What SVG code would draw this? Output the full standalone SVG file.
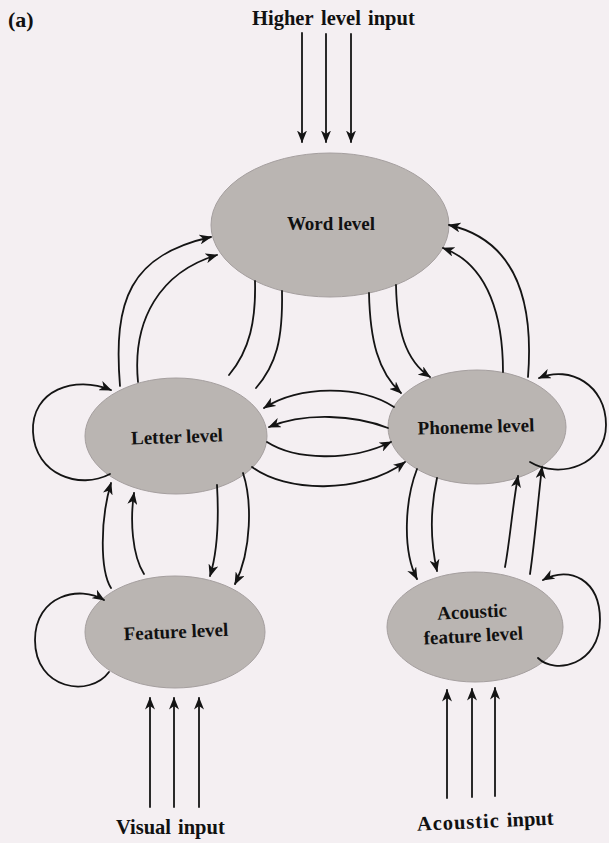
<svg xmlns="http://www.w3.org/2000/svg" width="609" height="843" viewBox="0 0 609 843">
  <style>
    .node { fill: #bab5b2; stroke: #a59f9f; stroke-width: 1; }
    .lbl { font-family: "Liberation Serif", "Times New Roman", serif; font-weight: bold; font-size: 19px; fill: #111; text-anchor: middle; }
    .title { font-family: "Liberation Serif", "Times New Roman", serif; font-weight: bold; font-size: 20.5px; fill: #111; }
    .edge { fill: none; stroke: #141414; stroke-width: 1.8; stroke-linecap: round; }
    .arr { marker-end: url(#head); }
  </style>
  <defs>
    <marker id="head" markerUnits="userSpaceOnUse" markerWidth="14" markerHeight="10" refX="11.5" refY="5" orient="auto">
      <path d="M0,0 L12.5,5 L0,10 L3.5,5 Z" fill="#141414"/>
    </marker>
  </defs>

  <rect width="609" height="843" fill="#f4eff2"/>

  <!-- nodes -->
  <g id="word">
    <ellipse class="node" cx="330" cy="225" rx="119" ry="72"/>
    <text class="lbl" x="331" y="230">Word level</text>
  </g>
  <g id="letter">
    <ellipse class="node" cx="176" cy="436" rx="91" ry="58"/>
    <text class="lbl" x="177" y="443" transform="rotate(-2 177 438)">Letter level</text>
  </g>
  <g id="phoneme">
    <ellipse class="node" cx="477" cy="427" rx="89" ry="57"/>
    <text class="lbl" x="476" y="433" transform="rotate(-1.5 476 428)">Phoneme level</text>
  </g>
  <g id="feature">
    <ellipse class="node" cx="175" cy="632" rx="90" ry="56"/>
    <text class="lbl" x="176" y="638" transform="rotate(-2.5 176 632)">Feature level</text>
  </g>
  <g id="acoustic-feature">
    <ellipse class="node" cx="475" cy="627" rx="88" ry="55"/>
    <text class="lbl" transform="rotate(-3 473 630)"><tspan x="473" y="618">Acoustic</tspan><tspan x="473" y="642">feature level</tspan></text>
  </g>

  <!-- labels outside nodes -->
  <g id="labels">
    <text class="title" x="8" y="27" style="font-size:22px">(a)</text>
    <text class="title" y="25"><tspan x="252">Higher</tspan><tspan x="321">level</tspan><tspan x="368">input</tspan></text>
    <text class="title" y="834"><tspan x="116">Visual</tspan><tspan x="178">input</tspan></text>
    <text class="title" transform="rotate(-2.5 481 825)" y="828"><tspan x="417" textLength="82">Acoustic</tspan><tspan x="507">input</tspan></text>
  </g>

  <!-- connectors -->
  <g id="connectors">
    <!-- higher level input -->
    <path class="edge arr" d="M302,33 V142"/>
    <path class="edge arr" d="M326,34 V142"/>
    <path class="edge arr" d="M351,34 V142"/>

    <!-- letter -> word -->
    <path class="edge arr" d="M120,386 C113,300 130,255 211,237"/>
    <path class="edge arr" d="M138,382 C132,320 160,272 217,255"/>
    <!-- word -> letter (no heads) -->
    <path class="edge" d="M255,281 C256,320 250,350 229,375"/>
    <path class="edge" d="M282,291 C283,340 276,365 256,388"/>

    <!-- word -> phoneme -->
    <path class="edge arr" d="M369,293 C370,340 378,372 401,393"/>
    <path class="edge arr" d="M396,285 C397,330 405,360 430,377"/>
    <!-- phoneme -> word -->
    <path class="edge arr" d="M528,377 C534,300 515,240 449,225"/>
    <path class="edge arr" d="M503,372 C503,320 490,265 443,248"/>

    <!-- letter self loop -->
    <path class="edge arr" d="M110,474 C80,490 35,475 33,432 C31,390 75,375 111,390"/>
    <!-- phoneme self loop -->
    <path class="edge arr" d="M530,462 C560,480 606,465 606,425 C606,385 570,365 539,378"/>

    <!-- phoneme <-> letter -->
    <path class="edge arr" d="M394,407 C360,385 300,385 264,408"/>
    <path class="edge arr" d="M388,428 C355,415 305,412 269,427"/>
    <path class="edge arr" d="M267,442 C295,460 350,462 391,442"/>
    <path class="edge arr" d="M252,467 C285,492 360,495 405,462"/>

    <!-- feature -> letter -->
    <path class="edge arr" d="M111,588 C100,570 100,520 111,483"/>
    <path class="edge arr" d="M144,574 C132,555 130,520 134,493"/>
    <!-- letter -> feature -->
    <path class="edge arr" d="M217,485 C219,520 218,550 210,576"/>
    <path class="edge arr" d="M243,473 C252,500 252,550 235,584"/>

    <!-- feature self loop -->
    <path class="edge arr" d="M109,672 C90,698 35,690 35,640 C35,595 80,585 104,600"/>

    <!-- visual input -->
    <path class="edge arr" d="M150,807 V698"/>
    <path class="edge arr" d="M174,807 V698"/>
    <path class="edge arr" d="M199,807 V698"/>

    <!-- phoneme -> acoustic feature -->
    <path class="edge arr" d="M417,469 C405,500 402,550 417,579"/>
    <path class="edge arr" d="M437,478 C430,510 430,540 437,571"/>
    <!-- acoustic feature -> phoneme -->
    <path class="edge arr" d="M505,567 C510,540 512,510 518,476"/>
    <path class="edge arr" d="M530,574 C535,540 538,500 542,467"/>

    <!-- acoustic feature self loop -->
    <path class="edge arr" d="M538,658 C555,675 600,665 600,620 C600,580 570,565 543,580"/>

    <!-- acoustic input -->
    <path class="edge arr" d="M447,798 V690"/>
    <path class="edge arr" d="M472,797 V689"/>
    <path class="edge arr" d="M495,796 V688"/>
  </g>
</svg>
